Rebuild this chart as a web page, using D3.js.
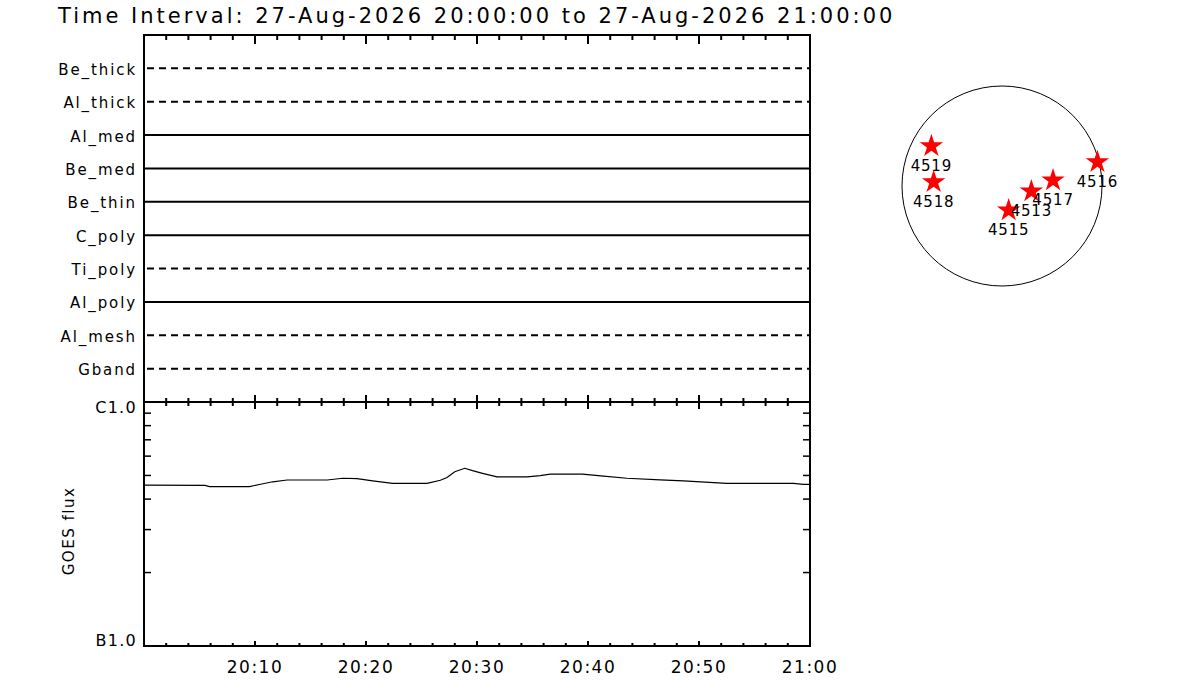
<!DOCTYPE html>
<html>
<head>
<meta charset="utf-8">
<script src="https://cdn.jsdelivr.net/npm/d3@7"></script>
<style>
  body { margin: 0; background: #fff; }
  svg text { font-family: "DejaVu Sans", "Liberation Sans", sans-serif; fill: #000; }
</style>
</head>
<body>
<div id="chart"></div>
<script>
// Filter channels, top to bottom, and whether each one is drawn dashed
var channels = ["Be_thick", "Al_thick", "Al_med", "Be_med", "Be_thin", "C_poly", "Ti_poly", "Al_poly", "Al_mesh", "Gband"];
var channelDashed = [true, true, false, false, false, false, true, false, true, true];

// GOES flux (minutes after 20:00, W/m^2)
var goesMinutes = [0, 5.5, 5.9, 9.5, 10.5, 11.6, 12.9, 16.5, 17.9, 19.2, 20.6, 22.4, 25.5, 26.7, 27.3, 28.0, 28.9, 29.6, 30.5, 31.8, 34.5, 35.7, 36.6, 39.5, 41.4, 43.5, 46.5, 48.6, 52.5, 58.5, 59.4, 60];
var goesFlux = [4.56e-7, 4.55e-7, 4.50e-7, 4.50e-7, 4.60e-7, 4.71e-7, 4.79e-7, 4.79e-7, 4.87e-7, 4.85e-7, 4.75e-7, 4.64e-7, 4.64e-7, 4.78e-7, 4.90e-7, 5.18e-7, 5.35e-7, 5.23e-7, 5.10e-7, 4.93e-7, 4.93e-7, 4.99e-7, 5.06e-7, 5.06e-7, 4.97e-7, 4.87e-7, 4.80e-7, 4.75e-7, 4.64e-7, 4.64e-7, 4.60e-7, 4.60e-7];

// Axis labels
var fluxTickValues = [1e-7, 1e-6];
var fluxTickLabels = ["B1.0", "C1.0"];
var timeTickLabels = ["20:10", "20:20", "20:30", "20:40", "20:50", "21:00"];

// Active regions on the solar disk (arcsec, solar radius ~960)
var regionIds = ["4519", "4518", "4515", "4513", "4517", "4516"];
var regionX = [-678, -656, 64, 282, 490, 916];
var regionY = [384, 38, -233, -51, 55, 230];
var solarRadius = 960;

var titleText = "Time Interval: 27-Aug-2026 20:00:00 to 27-Aug-2026 21:00:00";

var width = 1200, height = 700;
var left = 144, right = 810;
var topY = 35, midY = 402, bottomY = 646;

var svg = d3.select("#chart").append("svg")
    .attr("width", width)
    .attr("height", height);

// Title
svg.append("text")
    .attr("x", 58)
    .attr("y", 23)
    .attr("font-size", 21)
    .attr("letter-spacing", 3.0)
    .text(titleText);

var t0 = new Date(2026, 7, 27, 20, 0, 0);
var t1 = new Date(2026, 7, 27, 21, 0, 0);
var x = d3.scaleTime().domain([t0, t1]).range([left, right]);
function minToDate(m) { return new Date(t0.getTime() + m * 60000); }

// ---- top panel: filter channel timelines ----
var yBand = d3.scalePoint().domain(channels).range([topY, midY]).padding(1);

svg.append("g")
    .selectAll("line")
    .data(channels)
    .enter().append("line")
    .attr("x1", (d, i) => channelDashed[i] ? left + 3 : left)
    .attr("x2", right)
    .attr("y1", d => yBand(d))
    .attr("y2", d => yBand(d))
    .attr("stroke", "#000")
    .attr("stroke-width", 2)
    .attr("stroke-dasharray", (d, i) => channelDashed[i] ? "7,5" : null);

svg.append("g")
    .selectAll("text")
    .data(channels)
    .enter().append("text")
    .attr("x", 137)
    .attr("y", d => yBand(d) + 6.5)
    .attr("text-anchor", "end")
    .attr("font-size", 15)
    .attr("letter-spacing", 1.9)
    .text(d => d);

// time ticks: every 2 minutes, longer every 10
var minorTimes = d3.timeMinute.every(2).range(t0, d3.timeMinute.offset(t1, 1));

function timeTicks(y0, dir, minorLen, majorLen) {
    svg.append("g")
        .selectAll("line")
        .data(minorTimes)
        .enter().append("line")
        .attr("x1", d => x(d))
        .attr("x2", d => x(d))
        .attr("y1", y0)
        .attr("y2", d => y0 + dir * (d.getMinutes() % 10 === 0 ? majorLen : minorLen))
        .attr("stroke", "#000")
        .attr("stroke-width", 2);
}
timeTicks(topY, 1, 5, 9);
timeTicks(midY, -1, 4, 7);
timeTicks(midY, 1, 4, 7);
timeTicks(bottomY, -1, 3, 5);

// ---- bottom panel: GOES flux ----
var yFlux = d3.scaleLog().domain([1e-7, 1e-6]).range([bottomY, midY]);
var minorFlux = d3.range(2, 10).map(k => k * 1e-7);

svg.append("g")
    .selectAll("line")
    .data(minorFlux)
    .enter().append("line")
    .attr("x1", left)
    .attr("x2", left + 7)
    .attr("y1", d => yFlux(d))
    .attr("y2", d => yFlux(d))
    .attr("stroke", "#000")
    .attr("stroke-width", 1.5);

svg.append("g")
    .selectAll("line")
    .data(minorFlux)
    .enter().append("line")
    .attr("x1", right)
    .attr("x2", right - 7)
    .attr("y1", d => yFlux(d))
    .attr("y2", d => yFlux(d))
    .attr("stroke", "#000")
    .attr("stroke-width", 1.5);

var line = d3.line()
    .x((d, i) => x(minToDate(goesMinutes[i])))
    .y(d => yFlux(d));

svg.append("path")
    .datum(goesFlux)
    .attr("fill", "none")
    .attr("stroke", "#000")
    .attr("stroke-width", 1.2)
    .attr("d", line);

svg.append("g")
    .selectAll("text")
    .data(fluxTickValues)
    .enter().append("text")
    .attr("x", 137)
    .attr("y", d => d === 1e-6 ? yFlux(d) + 11 : yFlux(d))
    .attr("text-anchor", "end")
    .attr("font-size", 16)
    .attr("letter-spacing", 1.3)
    .text((d, i) => fluxTickLabels[i]);

svg.append("text")
    .attr("transform", "translate(74," + ((midY + bottomY) / 2 + 7) + ") rotate(-90)")
    .attr("text-anchor", "middle")
    .attr("font-size", 15)
    .attr("letter-spacing", 1.5)
    .text("GOES flux");

svg.append("g")
    .selectAll("text")
    .data(timeTickLabels)
    .enter().append("text")
    .attr("x", d => x(d3.timeParse("%Y-%m-%d %H:%M")("2026-08-27 " + d)))
    .attr("y", 673)
    .attr("text-anchor", "middle")
    .attr("font-size", 17)
    .attr("letter-spacing", 1.5)
    .text(d => d);

// frames
var frame = svg.append("g")
    .attr("fill", "none")
    .attr("stroke", "#000")
    .attr("stroke-width", 2);
frame.append("rect").attr("x", left).attr("y", topY).attr("width", right - left).attr("height", midY - topY);
frame.append("rect").attr("x", left).attr("y", midY).attr("width", right - left).attr("height", bottomY - midY);

// ---- solar disk with active regions ----
var cx = 1002, cy = 186, r = 100;
var sx = d3.scaleLinear().domain([-solarRadius, solarRadius]).range([cx - r, cx + r]);
var sy = d3.scaleLinear().domain([-solarRadius, solarRadius]).range([cy + r, cy - r]);

svg.append("circle")
    .attr("cx", sx(0))
    .attr("cy", sy(0))
    .attr("r", sx(solarRadius) - sx(0))
    .attr("fill", "none")
    .attr("stroke", "#000")
    .attr("stroke-width", 1);

var star = d3.symbol().type(d3.symbolStar).size(170);
var regions = svg.append("g")
    .selectAll("g")
    .data(regionIds)
    .enter().append("g")
    .attr("transform", (d, i) => "translate(" + sx(regionX[i]) + "," + sy(regionY[i]) + ")");

regions.append("path")
    .attr("d", star)
    .attr("fill", "#ff0000");

regions.append("text")
    .attr("y", 25)
    .attr("text-anchor", "middle")
    .attr("font-size", 15)
    .attr("letter-spacing", 0.8)
    .text(d => d);
</script>
</body>
</html>
